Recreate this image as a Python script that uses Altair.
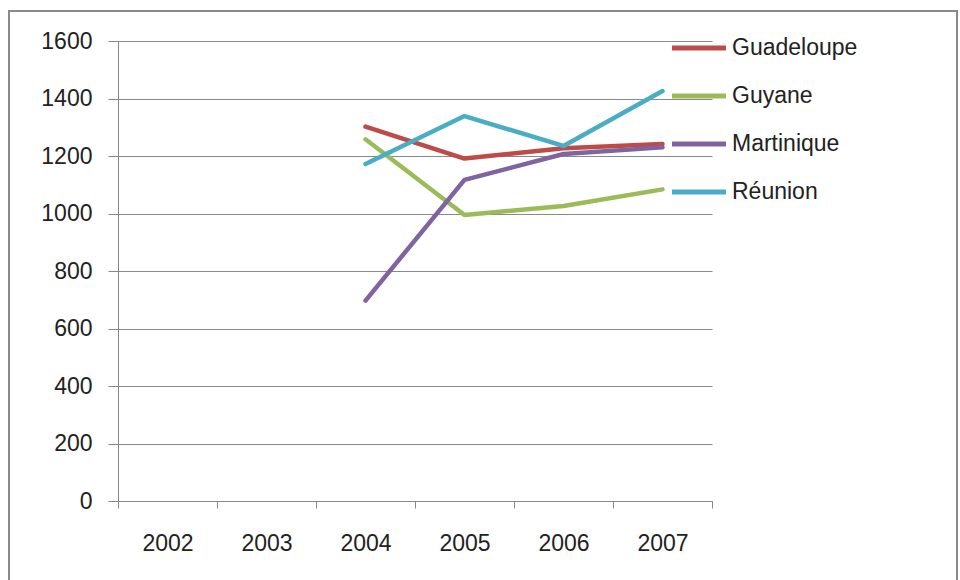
import altair as alt
import pandas as pd

years = ["2002", "2003", "2004", "2005", "2006", "2007"]
data_years = ["2004", "2005", "2006", "2007"]
guadeloupe = [1302, 1191, 1227, 1242]
guyane = [1258, 995, 1026, 1084]
martinique = [697, 1117, 1207, 1230]
reunion = [1172, 1339, 1235, 1426]

series = {
    "Guadeloupe": guadeloupe,
    "Guyane": guyane,
    "Martinique": martinique,
    "Réunion": reunion,
}
names = list(series.keys())
colors = ["#BE4B48", "#9BBB59", "#8064A2", "#4BACC6"]

rows = []
for name, vals in series.items():
    for y, v in zip(data_years, vals):
        rows.append({"Année": y, "Valeur": v, "Série": name})
df = pd.DataFrame(rows)

FONT = "Liberation Sans"

lines = alt.Chart(df).mark_line(strokeWidth=4.5, strokeCap="round", strokeJoin="round").encode(
    x=alt.X("Année:O", scale=alt.Scale(type="band", domain=years, paddingInner=0, paddingOuter=0),
            axis=alt.Axis(title=None, tickBand="extent", tickSize=7, labelPadding=24,
                          labelAngle=0, domainColor="#888888", tickColor="#888888",
                          labelFontSize=23, labelFont=FONT, labelColor="#222222", grid=False)),
    y=alt.Y("Valeur:Q", scale=alt.Scale(domain=[0, 1600], nice=False),
            axis=alt.Axis(title=None, values=[0, 200, 400, 600, 800, 1000, 1200, 1400, 1600],
                          format="d",
                          tickSize=10, labelPadding=16, domainColor="#888888", tickColor="#888888",
                          gridColor="#888888", gridWidth=1, labelFontSize=23, labelFont=FONT,
                          labelColor="#222222")),
    color=alt.Color("Série:N", scale=alt.Scale(domain=names, range=colors),
                    legend=alt.Legend(title=None, orient="none", legendX=565, legendY=-9,
                                      symbolType="M-2,0H2", symbolSize=729, symbolStrokeWidth=5,
                                      labelFontSize=23, labelFont=FONT, labelColor="#222222",
                                      labelOffset=17, rowPadding=20, symbolFillColor="transparent")),
)

frame = alt.Chart(df).mark_rect(fill=None, stroke="#8a8a8a", strokeWidth=2).encode(
    x=alt.value(9 - 118), x2=alt.value(957 - 118),
    y=alt.value(11 - 41), y2=alt.value(600 - 41),
)

chart = alt.layer(frame, lines).properties(
    width=594, height=460,
    autosize=alt.AutoSizeParams(type="none"),
    padding={"left": 118, "top": 41, "right": 248, "bottom": 79},
    background="white",
).configure_view(stroke=None)

chart.save("out.html", embed_options={"renderer": "svg", "actions": False})
